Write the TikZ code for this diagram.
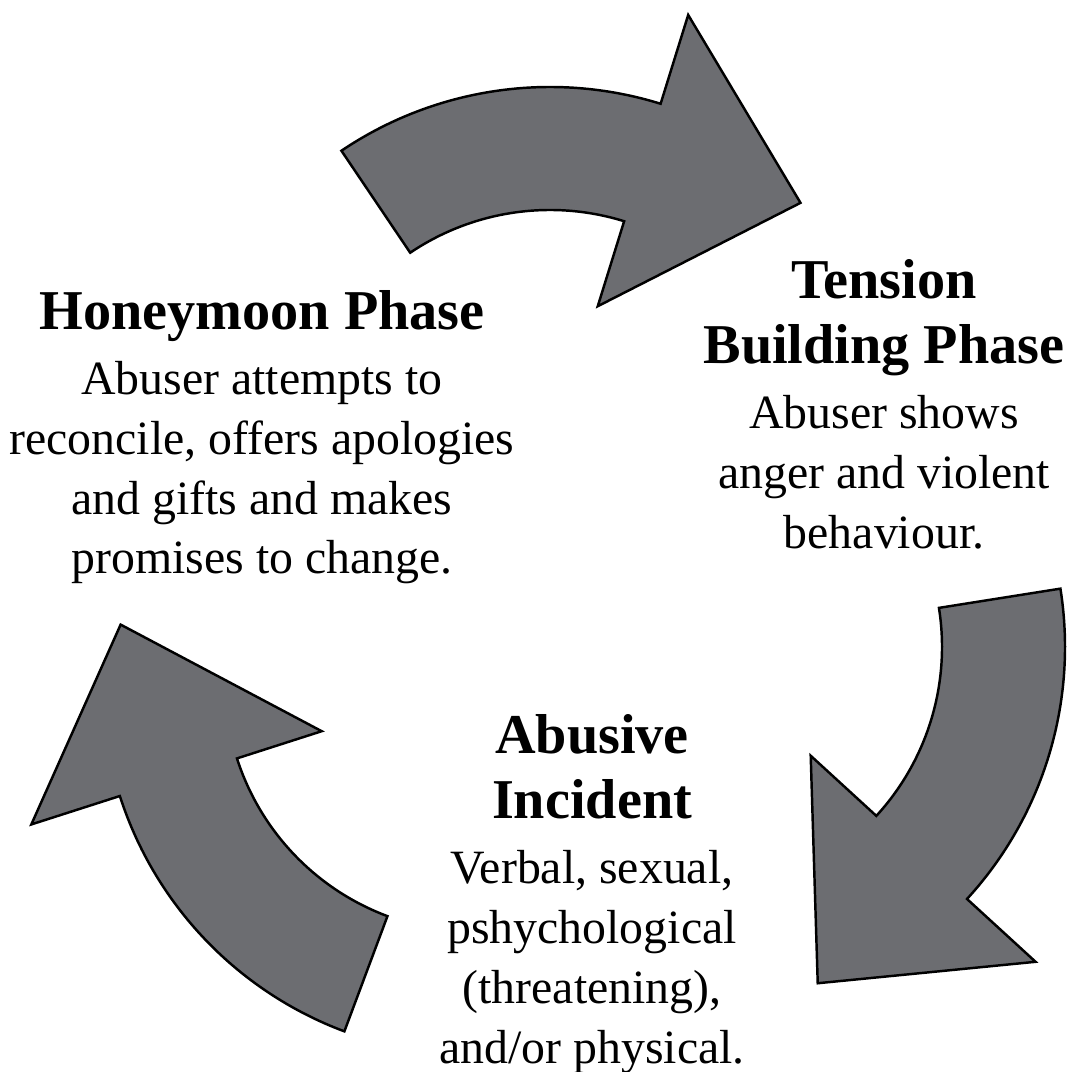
\documentclass[tikz,border=0pt]{standalone}
\usepackage{fontspec}
\setmainfont{Liberation Serif}
\definecolor{arrowgray}{RGB}{108,109,113}
\newcommand{\phasetitle}[1]{{\fontsize{16}{17}\selectfont\bfseries #1}}

\begin{document}
\begin{tikzpicture}[
    cyclearrow/.style={draw=black, fill=arrowgray, line width=0.7pt, line join=miter},
    phasetext/.style={align=center, anchor=north, inner sep=0pt, font=\fontsize{13.6}{17}\selectfont}
] %Ciclo de la violencia
    \useasboundingbox (0,0) rectangle (10.68,10.72);

    \coordinate (T) at (5.50,6.12);
    \coordinate (R) at (6.92,4.25);
    \coordinate (L) at (4.75,3.90);

    \begin{scope}[shift={(T)}]
        \draw[cyclearrow] (124:3.73) arc[start angle=124, end angle=72.75, radius=3.73]
            -- (72.75:4.66) -- (45.75:3.59) -- (72.75:1.61) -- (72.75:2.50)
            arc[start angle=72.75, end angle=124, radius=2.50] -- cycle;
    \end{scope}

    \begin{scope}[shift={(R)}]
        \draw[cyclearrow] (9:3.73) arc[start angle=9, end angle=-42.5, radius=3.73]
            -- (-42.5:4.66) -- (-69.5:3.59) -- (-42.5:1.61) -- (-42.5:2.50)
            arc[start angle=-42.5, end angle=9, radius=2.50] -- cycle;
    \end{scope}

    \begin{scope}[shift={(L)}]
        \draw[cyclearrow] (-110.5:3.73) arc[start angle=-110.5, end angle=-162.2, radius=3.73]
            -- (-162.2:4.66) -- (-189.2:3.59) -- (-162.2:1.61) -- (-162.2:2.50)
            arc[start angle=-162.2, end angle=-110.5, radius=2.50] -- cycle;
    \end{scope}

    \node[phasetext] (honeymoon) at (2.62,7.82) {\phasetitle{Honeymoon Phase}\\[1.5pt]
        Abuser attempts to\\reconcile, offers apologies\\and gifts and makes\\promises to change.};

    \node[phasetext] (tension) at (8.84,8.13) {\phasetitle{Tension}\\[1.5pt]
        \phasetitle{Building Phase}\\[1.5pt]
        Abuser shows\\anger and violent\\behaviour.};

    \node[phasetext] (incident) at (5.92,3.58) {\phasetitle{Abusive}\\[1.5pt]
        \phasetitle{Incident}\\[1.5pt]
        Verbal, sexual,\\pshychological\\(threatening),\\and/or physical.};
\end{tikzpicture}
\end{document}
